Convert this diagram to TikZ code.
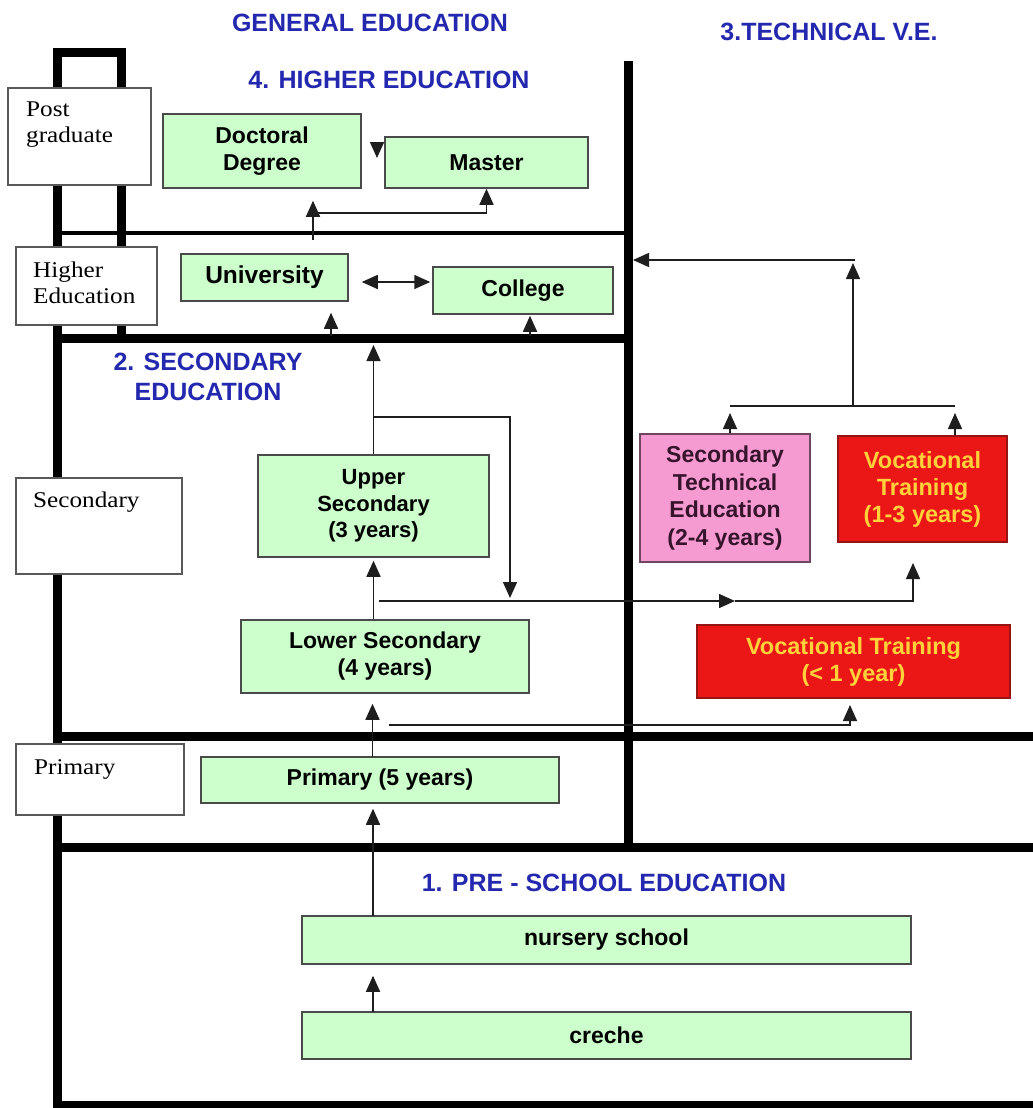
\documentclass[tikz,border=0pt]{standalone}
\usepackage{fontspec}
\setmainfont{Liberation Sans}
\newfontfamily\lblfont{Liberation Serif}[FakeStretch=1.12]
\usetikzlibrary{arrows.meta,calc}
\definecolor{boxgreen}{HTML}{CCFFCC}
\definecolor{boxedge}{HTML}{4A4A4A}
\definecolor{titleblue}{RGB}{35,40,175}
\definecolor{pinkfill}{RGB}{245,155,210}
\definecolor{pinkedge}{RGB}{110,70,95}
\definecolor{pinktext}{RGB}{55,20,45}
\definecolor{redfill}{RGB}{235,22,22}
\definecolor{rededge}{RGB}{150,20,20}
\definecolor{yellowtext}{RGB}{255,210,60}
\definecolor{linegray}{HTML}{1E1E1E}
\begin{document}
\begin{tikzpicture}[x=1pt,y=-1pt,
  wall/.style={line width=9pt, black, line join=miter},
  midwall/.style={line width=4.5pt, black},
  gbox/.style={draw=boxedge, fill=boxgreen, line width=1.5pt, inner sep=0pt, align=center, font=\bfseries\fontsize{23}{27}\selectfont},
  pbox/.style={draw=pinkedge, fill=pinkfill, line width=1.5pt, inner sep=0pt, align=center, text=pinktext, font=\bfseries\fontsize{23}{27.5}\selectfont},
  rbox/.style={draw=rededge, fill=redfill, line width=1.5pt, inner sep=0pt, align=center, text=yellowtext, font=\bfseries\fontsize{23.5}{27}\selectfont},
  lbox/.style={draw=gray!70!black, fill=white, line width=1.5pt, inner sep=0pt},
  ltext/.style={anchor=north west, inner sep=0pt, align=left, font=\lblfont\fontsize{22.5}{26}\selectfont},
  title/.style={text=titleblue, inner sep=0pt, align=center, font=\bfseries\fontsize{25}{30}\selectfont},
  conn/.style={draw=linegray, line width=1.5pt},
  arr/.style={conn, -{Triangle[length=16pt,width=14pt]}},
  dbl/.style={conn, {Triangle[length=16pt,width=14pt]}-{Triangle[length=16pt,width=14pt]}}
]
\useasboundingbox (0,0) rectangle (1033,1108);

% ---- frame lines ----
\draw[wall] (1033,1105) -- (57,1105) -- (57,53) -- (121,53) -- (121,338);
\draw[midwall] (57,233) -- (628,233);
\draw[wall] (57,338) -- (628,338);
\draw[wall] (628,61) -- (628,847);
\draw[wall] (57,736) -- (1033,736);
\draw[wall] (57,847) -- (1033,847);

% ---- titles ----
\node[title] (tGen) at (370,23) {GENERAL EDUCATION};
\node[title] (tTech) at (829,32) {3.TECHNICAL V.E.};
\node[title] (tHigh) at (389,80) {4. HIGHER EDUCATION};
\node[title] (tSec) at (208,377) {2. SECONDARY\\EDUCATION};
\node[title] (tPre) at (604,883) {1. PRE - SCHOOL EDUCATION};

% ---- left level boxes ----
\node[lbox, minimum width=143pt, minimum height=97pt] (post) at (79.5,136.5) {};
\node[ltext] (postT) at (26,102) {Post\\graduate};
\node[lbox, minimum width=141pt, minimum height=78pt] (high) at (86.5,286) {};
\node[ltext] (highT) at (33,262) {Higher\\Education};
\node[lbox, minimum width=166pt, minimum height=96pt] (sec) at (99,526) {};
\node[ltext] (secT) at (33,492) {Secondary};
\node[lbox, minimum width=168pt, minimum height=71pt] (prim) at (100,779.5) {};
\node[ltext] (primT) at (34,759) {Primary};

% ---- general education boxes ----
\node[gbox, minimum width=198pt, minimum height=74pt] (doc) at (262,151) {Doctoral\\Degree};
\node[gbox, minimum width=203pt, minimum height=51pt] (master) at (486.5,162.5) {Master};
\node[gbox, minimum width=167pt, minimum height=47pt, font=\bfseries\fontsize{24.5}{28}\selectfont] (univ) at (264.5,277.5) {University};
\node[gbox, minimum width=180pt, minimum height=47pt] (college) at (523,290.5) {College};
\node[gbox, minimum width=231pt, minimum height=102pt, font=\bfseries\fontsize{22}{26.5}\selectfont] (upper) at (373.5,506) {Upper\\Secondary\\(3 years)};
\node[gbox, minimum width=288pt, minimum height=73pt] (lower) at (385,656.5) {Lower Secondary\\(4 years)};
\node[gbox, minimum width=358pt, minimum height=46pt] (prim5) at (380,780) {Primary (5 years)};
\node[gbox, minimum width=609pt, minimum height=48pt] (nursery) at (606.5,940) {nursery school};
\node[gbox, minimum width=609pt, minimum height=47pt] (creche) at (606.5,1035.5) {creche};

% ---- technical boxes ----
\node[pbox, minimum width=170pt, minimum height=128pt] (ste) at (725,498) {Secondary\\Technical\\Education\\(2-4 years)};
\node[rbox, minimum width=169pt, minimum height=106pt] (vt13) at (922.5,489) {Vocational\\Training\\(1-3 years)};
\node[rbox, minimum width=313pt, minimum height=73pt] (vt1) at (853.5,661.5) {Vocational Training\\(< 1 year)};

% ---- connectors: higher education ----
\coordinate (hA) at (313,240);
\coordinate (hB) at (313,213);
\draw[arr, shorten >=12pt] (hA) -- (hA |- doc.south);
\draw[arr] (hB) -| (master.south);
\coordinate (dA) at (377,142);
\coordinate (dB) at (377,158);
\draw[arr] (dA) -- (dB);
\draw[dbl] ($(univ.east)+(13,4.5)$) -- ($(college.west)+(-2,-8.5)$);
\coordinate (uA) at (331,336);
\draw[arr, shorten >=11pt] (uA) -- (uA |- univ.south);
\coordinate (cA) at (530,336);
\draw[arr, shorten >=1pt] (cA) -- (cA |- college.south);

% ---- connectors: secondary ----
\coordinate (sTop) at (373.5,345);
\draw[arr] (upper.north) -- (sTop);
\coordinate (sBr) at (373.5,417);
\coordinate (sDn) at (510,598);
\draw[arr] (sBr) -| (sDn);
\draw[arr, shorten >=3pt] (upper.south |- lower.north) -- (upper.south);
\coordinate (m1) at (379,601);
\coordinate (m2) at (735,601);
\coordinate (m3) at (913,563);
\draw[arr] (m1) -- (m2);
\draw[arr] (m2) -| (m3);
\coordinate (n1) at (389,725);
\coordinate (n2) at (850,705);
\draw[arr] (n1) -| (n2);
\coordinate (p1) at (372.5,757);
\draw[arr, shorten >=10pt] (p1) -- (p1 |- lower.south);

% ---- connectors: primary / pre-school ----
\coordinate (q1) at (373,916);
\draw[arr, shorten >=5pt] (q1) -- (q1 |- prim5.south);
\coordinate (q2) at (373,1012);
\draw[arr, shorten >=11pt] (q2) -- (q2 |- nursery.south);

% ---- connectors: technical ----
\coordinate (t1) at (730,413);
\coordinate (t2) at (955,413);
\draw[arr] ($(ste.north)+(5,0)$) -- (t1);
\draw[arr] ($(vt13.north)+(32.5,0)$) -- (t2);
\coordinate (tL) at (730,406);
\coordinate (tR) at (955,406);
\draw[conn] (tL) -- (tR);
\coordinate (tM) at (853,406);
\coordinate (tUp) at (853,263);
\draw[arr] (tM) -- (tUp);
\coordinate (tH) at (855,260);
\coordinate (tE) at (633,260);
\draw[arr] (tH) -- (tE);
\end{tikzpicture}
\end{document}
